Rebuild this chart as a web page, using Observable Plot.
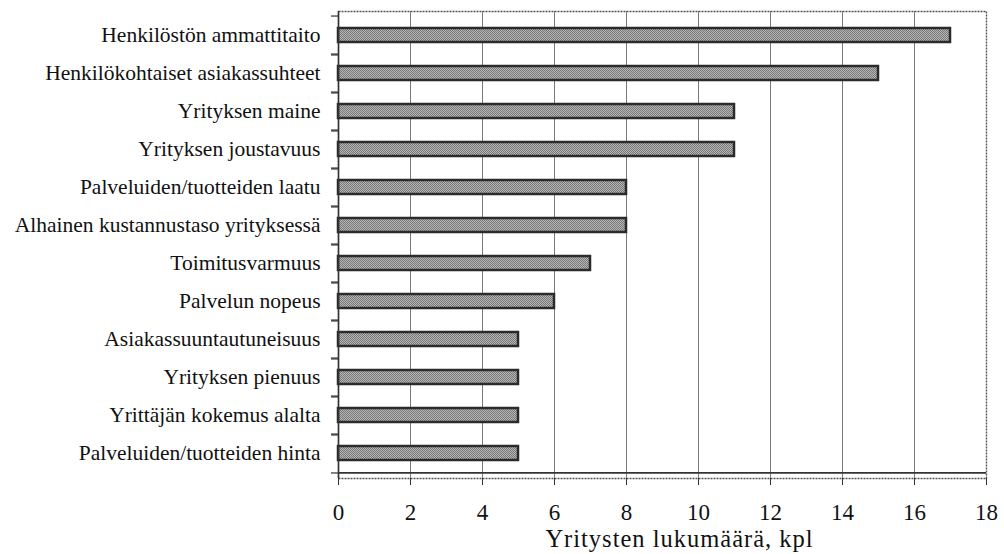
<!DOCTYPE html>
<html>
<head>
<meta charset="utf-8">
<script src="https://cdn.jsdelivr.net/npm/d3@7"></script>
<script src="https://cdn.jsdelivr.net/npm/@observablehq/plot@0.6"></script>
<style>
  body { margin: 0; background: #fff; overflow: hidden; }
  svg { display: block; }
  svg text { font-family: 'Liberation Serif', 'Times New Roman', serif; }
  .x-title text { letter-spacing: 1px; }
</style>
</head>
<body>
<div id="chart"></div>
<script>
// Success factors named by the companies, and how many companies named each
const factors = [
  "Henkilöstön ammattitaito",
  "Henkilökohtaiset asiakassuhteet",
  "Yrityksen maine",
  "Yrityksen joustavuus",
  "Palveluiden/tuotteiden laatu",
  "Alhainen kustannustaso yrityksessä",
  "Toimitusvarmuus",
  "Palvelun nopeus",
  "Asiakassuuntautuneisuus",
  "Yrityksen pienuus",
  "Yrittäjän kokemus alalta",
  "Palveluiden/tuotteiden hinta"
];
const counts = [17, 15, 11, 11, 8, 8, 7, 6, 5, 5, 5, 5];
const xTicks = [0, 2, 4, 6, 8, 10, 12, 14, 16, 18];
const xTitle = "Yritysten lukumäärä, kpl";

const data = factors.map((factor, i) => ({factor, count: counts[i]}));

const W = 1004, H = 554;
const mL = 338, mR = 18, mT = 11, mB = 76;
const step = (H - mT - mB) / factors.length;
const font = "'Liberation Serif', 'Times New Roman', serif";

// fine grey checker used as the bar fill
const defs = () => {
  const g = d3.create("svg:defs");
  const p = g.append("pattern")
    .attr("id", "checker").attr("patternUnits", "userSpaceOnUse")
    .attr("width", 2).attr("height", 2);
  p.append("rect").attr("width", 2).attr("height", 2).attr("fill", "#b4b4b4");
  p.append("rect").attr("width", 1).attr("height", 1).attr("fill", "#7a7a7a");
  p.append("rect").attr("x", 1).attr("y", 1).attr("width", 1).attr("height", 1).attr("fill", "#7a7a7a");
  return g.node();
};

const chart = Plot.plot({
  width: W,
  height: H,
  marginLeft: mL,
  marginRight: mR,
  marginTop: mT,
  marginBottom: mB,
  style: {fontFamily: font, background: "#fff", color: "#111"},
  x: {domain: [0, 18], label: null},
  y: {domain: factors, paddingInner: 0.63, paddingOuter: 0.315, label: null},
  marks: [
    defs,
    // dotted border of the plot area (left and bottom are covered by the axis lines)
    Plot.frame({stroke: "#555", strokeWidth: 1.4, strokeDasharray: "2,1"}),
    // vertical gridlines
    Plot.ruleX(xTicks.filter(v => v > 0 && v < 18), {stroke: "#7a7a7a", strokeWidth: 1}),
    // bars
    Plot.barX(data, {y: "factor", x: "count", fill: "url(#checker)", stroke: "#2b2b2b", strokeWidth: 2.5}),
    // left and bottom axis lines
    Plot.ruleX([0], {stroke: "#333", strokeWidth: 1.5}),
    Plot.ruleY([factors[factors.length - 1]], {x1: 0, x2: 18, dy: step / 2, stroke: "#333", strokeWidth: 1.8}),
    // category boundary ticks on the left axis
    Plot.ruleY(factors, {x1: 0, x2: 0, insetLeft: -7, dy: -step / 2, stroke: "#333", strokeWidth: 1.2}),
    Plot.ruleY(factors, {x1: 0, x2: 0, insetLeft: -7, dy: step / 2, stroke: "#333", strokeWidth: 1.2}),
    // category labels
    Plot.axisY({tickSize: 0, tickPadding: 18, fontSize: 21.5, fontFamily: font, label: null}),
    // x axis
    Plot.axisX({ticks: xTicks, tickSize: 7, tickPadding: 18, fontSize: 23, fontFamily: font, label: null, stroke: "#333"}),
    Plot.text([xTitle], {frameAnchor: "bottom", dx: 17, dy: 61, lineAnchor: "middle", fontSize: 24.5, fontFamily: font, fill: "#111", className: "x-title"})
  ]
});

document.getElementById("chart").appendChild(chart);
</script>
</body>
</html>
